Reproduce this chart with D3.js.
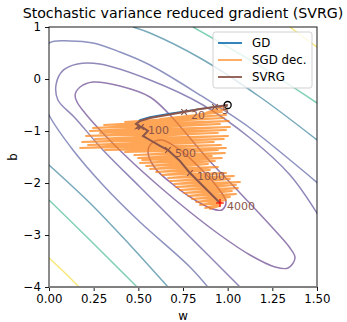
<!DOCTYPE html>
<html><head><meta charset="utf-8">
<script src="https://cdn.jsdelivr.net/npm/d3@7"></script>
<style>body{margin:0;background:#fff}svg{display:block;font-family:"DejaVu Sans",sans-serif}</style>
</head><body><svg id="c" width="347" height="322"></svg>
<script>
const title = "Stochastic variance reduced gradient (SVRG)";
const xTicks = [0, 0.25, 0.5, 0.75, 1, 1.25, 1.5];
const yTicks = [1, 0, -1, -2, -3, -4];
const legendLabels = ["GD", "SGD dec.", "SVRG"];

// contour lines of the loss surface (w, b)
const contourE1 = [[0.554,-1.404],[0.576,-1.231],[0.632,-1.173],[0.733,-1.365],[0.845,-1.712],[0.946,-2.096],[0.991,-2.365],[0.968,-2.519],[0.901,-2.481],[0.789,-2.269],[0.677,-1.981],[0.593,-1.712]];
const contourE2 = [[0.146,-0.308],[0.174,-0.154],[0.246,-0.058],[0.397,-0.135],[0.565,-0.346],[0.677,-0.692],[0.884,-1.519],[1.069,-2.192],[1.237,-2.808],[1.349,-3.25],[1.377,-3.442],[1.338,-3.635],[1.265,-3.615],[1.125,-3.385],[0.957,-3.0],[0.789,-2.558],[0.621,-2.077],[0.453,-1.558],[0.285,-0.981],[0.201,-0.654],[0.157,-0.442]];
const contourP3 = [[1.125,-4.192],[1.069,-4.0],[0.789,-3.038],[0.509,-2.077],[0.302,-1.365],[0.146,-0.75],[0.050,-0.404],[0.040,-0.1],[0.080,0.17],[0.160,0.29],[0.285,0.288],[0.565,-0.019],[0.862,-0.5],[1.125,-1.135],[1.349,-1.846],[1.517,-2.673]];
const contourP4 = [[0.912,-4.096],[0.789,-3.615],[0.509,-2.75],[0.302,-2.038],[0.134,-1.365],[0,-0.692],[-0.05,-0.212],[-0.05,0.365],[0,0.692],[0.118,0.731],[0.246,0.692],[0.397,0.519],[0.565,0.269],[0.845,-0.308],[1.125,-0.942],[1.349,-1.558],[1.517,-2.038]];
const contourTealUp = [[0.470,1],[0.565,0.885],[0.845,0.404],[1.181,-0.346],[1.5,-1.173]];
const contourTealLo = [[0,-1.654],[0.229,-2.385],[0.453,-3.192],[0.666,-4]];
const contourGreenUp = [[0.806,1],[1.153,0.308],[1.5,-0.462]];
const contourGreenLo = [[0,-2.327],[0.246,-3.154],[0.493,-4]];
const contourYellowUp = [[1.349,1],[1.422,0.808],[1.5,0.615]];
const contourYellowLo = [[0,-3.442],[0.084,-3.712],[0.168,-4]];

// optimisation paths (w, b)
const gdPath = [[1.0,-0.5],[0.845,-0.577],[0.677,-0.665],[0.565,-0.73],[0.509,-0.788],[0.498,-0.846]];
const sgdPath = [[1.0,-0.5],[0.873,-0.654],[0.996,-0.577],[0.789,-0.712],[0.968,-0.635],[0.621,-0.769],[0.991,-0.692],[0.425,-0.827],[0.979,-0.75],[0.308,-0.885],[1.007,-0.808],[0.246,-0.942],[0.957,-0.865],[0.229,-1.0],[1.013,-0.923],[0.285,-1.038],[0.991,-0.981],[0.207,-1.096],[0.946,-1.038],[0.257,-1.154],[1.002,-1.096],[0.185,-1.212],[0.979,-1.154],[0.218,-1.269],[0.923,-1.212],[0.174,-1.327],[0.963,-1.269],[0.313,-1.365],[0.991,-1.327],[0.425,-1.404],[0.946,-1.365],[0.476,-1.462],[0.985,-1.423],[0.498,-1.519],[0.912,-1.481],[0.521,-1.558],[0.968,-1.519],[0.509,-1.615],[0.929,-1.577],[0.543,-1.673],[0.890,-1.635],[0.565,-1.731],[0.946,-1.692],[0.599,-1.788],[0.901,-1.75],[0.632,-1.846],[0.991,-1.808],[0.666,-1.904],[1.035,-1.865],[0.677,-1.962],[1.013,-1.923],[0.700,-2.019],[1.069,-1.981],[0.711,-2.077],[1.047,-2.038],[0.733,-2.135],[1.058,-2.096],[0.756,-2.192],[1.024,-2.154],[0.778,-2.25],[1.047,-2.212],[0.800,-2.308],[1.013,-2.269],[0.823,-2.365],[0.991,-2.327],[0.845,-2.423],[0.968,-2.385],[0.873,-2.481],[0.957,-2.442],[0.901,-2.5],[0.957,-2.385]];
const svrgPath = [[1.0,-0.5],[0.929,-0.538],[0.845,-0.577],[0.756,-0.635],[0.660,-0.692],[0.565,-0.75],[0.509,-0.808],[0.487,-0.865],[0.504,-0.904],[0.493,-0.942],[0.521,-0.923],[0.554,-1.0],[0.526,-1.096],[0.565,-1.173],[0.621,-1.288],[0.666,-1.365],[0.733,-1.577],[0.789,-1.808],[0.873,-2.096],[0.957,-2.385]];
const markIters = [5, 20, 100, 500, 1000, 4000];
const markPts = [[0.929,-0.538],[0.756,-0.635],[0.515,-0.923],[0.666,-1.365],[0.789,-1.808],[0.957,-2.385]];
const startPt = [1.0, -0.5];

const svg = d3.select("#c");
const x = d3.scaleLinear().domain([0, 1.5]).range([49, 317]);
const y = d3.scaleLinear().domain([-4, 1]).range([287, 27]);

svg.append("defs").append("clipPath").attr("id","clip")
  .append("rect").attr("x",49).attr("y",27).attr("width",268).attr("height",260);

const plot = svg.append("g").attr("clip-path","url(#clip)");
const lineOpen = d3.line().x(d=>x(d[0])).y(d=>y(d[1])).curve(d3.curveCatmullRom.alpha(0.5));
const lineClosed = d3.line().x(d=>x(d[0])).y(d=>y(d[1])).curve(d3.curveCatmullRomClosed.alpha(0.5));
const lineLin = d3.line().x(d=>x(d[0])).y(d=>y(d[1]));

const contours = [
  {pts: contourE1, closed: true, color: "#936fab"},
  {pts: contourE2, closed: true, color: "#957db1"},
  {pts: contourP3, closed: false, color: "#9288ba"},
  {pts: contourP4, closed: false, color: "#8e92c0"},
  {pts: contourTealUp, closed: false, color: "#78a9bb"},
  {pts: contourTealLo, closed: false, color: "#78a9bb"},
  {pts: contourGreenUp, closed: false, color: "#80d1b4"},
  {pts: contourGreenLo, closed: false, color: "#80d1b4"},
  {pts: contourYellowUp, closed: false, color: "#f8e87c"},
  {pts: contourYellowLo, closed: false, color: "#f8e87c"}
];
plot.selectAll("path.ct").data(contours).join("path").attr("class","ct")
  .attr("d", d => (d.closed ? lineClosed : lineOpen)(d.pts))
  .attr("fill","none").attr("stroke", d=>d.color).attr("stroke-width",1.5);

plot.append("path").attr("d", lineLin(gdPath)).attr("fill","none").attr("stroke","#1f77b4").attr("stroke-width",1.5);
plot.append("path").attr("d", lineLin(sgdPath)).attr("fill","none").attr("stroke","#ff7f0e").attr("stroke-opacity",0.7).attr("stroke-width",1.8).attr("stroke-linejoin","round");
plot.append("path").attr("d", lineLin(svrgPath)).attr("fill","none").attr("stroke","#8c564b").attr("stroke-width",2);

// markers
markPts.forEach((p,i)=>{
  const cx = x(p[0]), cy = y(p[1]);
  const last = i === markPts.length-1;
  const s = 4;
  plot.append("path").attr("d",`M${cx-s},${cy}L${cx+s},${cy}M${cx},${cy-s}L${cx},${cy+s}`)
    .attr("transform", last ? null : `rotate(45,${cx},${cy})`)
    .attr("stroke", last ? "#ff0000" : "#8c564b").attr("stroke-width",1.2);
  svg.append("text").attr("x",cx+7).attr("y",cy+4).attr("dominant-baseline","middle")
    .attr("font-size","11px").attr("fill","#8c564b").text(markIters[i]);
});
plot.append("circle").attr("cx",x(startPt[0])).attr("cy",y(startPt[1])).attr("r",3.5)
  .attr("fill","none").attr("stroke","#000").attr("stroke-width",1.3);

// axes
const fs = "11.8px";
const xa = svg.append("g").attr("transform","translate(0,287)")
  .call(d3.axisBottom(x).tickValues(xTicks).tickFormat(d3.format(".2f")).tickSize(4).tickPadding(4));
const ya = svg.append("g").attr("transform","translate(49,0)")
  .call(d3.axisLeft(y).tickValues(yTicks).tickFormat(d3.format("d")).tickSize(4).tickPadding(4));
[xa,ya].forEach(a=>{a.selectAll("text").attr("font-size",fs).attr("font-family","DejaVu Sans").attr("fill","#000");
  a.select(".domain").remove(); a.selectAll("line").attr("stroke","#000").attr("stroke-width",0.9);});
// spines
svg.append("rect").attr("x",49).attr("y",27).attr("width",268).attr("height",260).attr("fill","none").attr("stroke","#000").attr("stroke-width",0.9);
svg.append("line").attr("x1",49).attr("x2",317).attr("y1",287).attr("y2",287).attr("stroke","#808080").attr("stroke-width",2);

svg.append("text").attr("x",183).attr("y",18).attr("text-anchor","middle").attr("font-size","14.2px").text(title);
svg.append("text").attr("x",183).attr("y",320).attr("text-anchor","middle").attr("font-size",fs).text("w");
svg.append("text").attr("transform","translate(17,157) rotate(-90)").attr("text-anchor","middle").attr("font-size",fs).text("b");

// legend
const lg = svg.append("g");
lg.append("rect").attr("x",213).attr("y",32).attr("width",99).attr("height",56).attr("rx",2.5)
  .attr("fill","#fff").attr("fill-opacity",0.8).attr("stroke","#ccc").attr("stroke-width",0.9);
const legColors = ["#1f77b4","#ffa556","#8c564b"];
legendLabels.forEach((t,i)=>{
  const yy = 43 + i*17;
  lg.append("line").attr("x1",218).attr("x2",242).attr("y1",yy).attr("y2",yy).attr("stroke",legColors[i]).attr("stroke-width",1.8);
  lg.append("text").attr("x",252).attr("y",yy).attr("dominant-baseline","central").attr("font-size",fs).text(t);
});
</script></body></html>
